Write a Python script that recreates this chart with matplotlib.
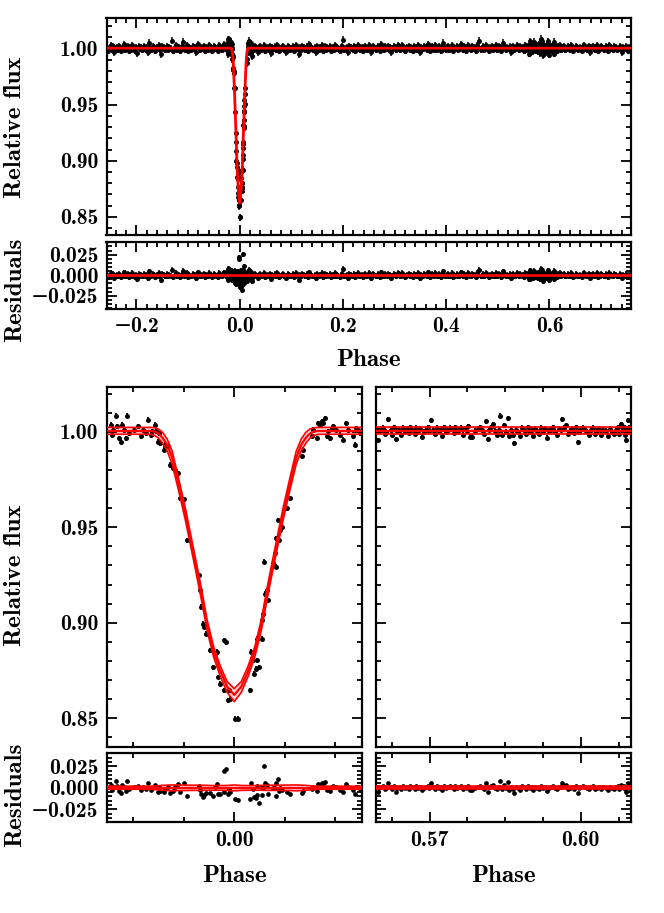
import numpy as np
import matplotlib
matplotlib.use("Agg")
import matplotlib.pyplot as plt
from matplotlib.ticker import MultipleLocator, FuncFormatter

plt.rcParams['font.family'] = ['cmb10', 'DejaVu Serif']
plt.rcParams['axes.unicode_minus'] = True

# ---------------- transit model (median and 1-sigma envelope) ----------------
model_phase = [-0.0253, -0.0180, -0.0166, -0.0158, -0.0150, -0.0142, -0.0133, -0.0123,
               -0.0110, -0.0097, -0.0087, -0.0074, -0.0064, -0.0054, -0.0041, -0.0028,
               -0.0014, 0.0, 0.0014, 0.0028, 0.0041, 0.0054, 0.0064, 0.0074, 0.0087,
               0.0097, 0.0110, 0.0123, 0.0133, 0.0142, 0.0150, 0.0158, 0.0166, 0.0180, 0.0253]
model_med = [1.0004, 1.0004, 1.0004, 1.0001, 0.9990, 0.9968, 0.9932, 0.9865,
             0.9720, 0.9570, 0.9440, 0.9270, 0.9135, 0.8990, 0.8850, 0.8750,
             0.8665, 0.8622, 0.8665, 0.8750, 0.8850, 0.8990, 0.9135, 0.9270, 0.9440,
             0.9570, 0.9720, 0.9865, 0.9932, 0.9968, 0.9990, 1.0001, 1.0004, 1.0004, 1.0004]
model_hi = [1.0023, 1.0023, 1.0023, 1.0021, 1.0014, 0.9997, 0.9962, 0.9898,
            0.9752, 0.9601, 0.9470, 0.9300, 0.9165, 0.9018, 0.8876, 0.8776,
            0.8692, 0.8655, 0.8692, 0.8776, 0.8876, 0.9018, 0.9165, 0.9300, 0.9470,
            0.9601, 0.9752, 0.9898, 0.9962, 0.9997, 1.0014, 1.0021, 1.0023, 1.0023, 1.0023]
model_lo = [0.9987, 0.9987, 0.9986, 0.9980, 0.9966, 0.9940, 0.9900, 0.9830,
            0.9688, 0.9538, 0.9410, 0.9240, 0.9105, 0.8962, 0.8822, 0.8722,
            0.8635, 0.8587, 0.8635, 0.8722, 0.8822, 0.8962, 0.9105, 0.9240, 0.9410,
            0.9538, 0.9688, 0.9830, 0.9900, 0.9940, 0.9966, 0.9980, 0.9986, 0.9987, 0.9987]
full_phase_edges = [-0.258, 0.758]
baseline_levels = [1.0023, 1.0004, 0.9987]   # hi, median, lo out of transit

# ---------------- transit window data (bottom-left) ----------------
tr_phase_e4 = [-245.1, -239.8, -235.2, -241.8, -231.9, -228.6, -225.3, -222.0, -218.8, -215.5,
               -213.5, -208.9, -199.0, -191.1, -185.8, -180.5, -175.9, -171.3, -166.0, -162.7,
               -158.1, -154.2, -151.5, -148.9, -146.3, -139.7, -136.4, -131.1, -126.5, -121.2,
               -116.6, -112.0, -108.1, -98.8, -93.6, -70.5, -68.5, -65.9, -61.9, -59.3,
               -55.3, -47.4, -42.2, -37.6, -34.3, -32.9, -27.7, -21.1, -16.5, -19.8,
               -13.2, -11.2, -7.9, 2.0, 6.6, 31.6, 32.9, 36.9, 39.5, 43.5,
               44.8, 44.8, 50.1, 54.7, 54.7, 58.0, 61.3, 64.6, 67.9, 59.3,
               77.7, 81.0, 83.0, 83.0, 86.3, 89.0, 90.9, 94.2, 104.1, 110.7,
               133.8, 137.0, 153.5, 156.8, 163.4, 166.7, 170.0, 173.3, 176.6, 179.9,
               183.2, 186.5, 189.8, 193.1, 196.4, 202.9, 209.5, 216.1, 221.4, 226.0,
               235.9, 239.2, 245.8, 249.1, 242.5]
tr_flux = [1.0037, 1.0011, 1.0084, 0.9984, 1.0028, 0.9967, 0.9949, 1.0037, 1.0011, 0.9967,
           1.0084, 0.9993, 1.0011, 1.0028, 0.9976, 1.0011, 0.9993, 1.0063, 0.9984, 1.0002,
           1.0037, 1.0002, 0.9949, 0.9993, 0.9941, 0.9906, 0.9932, 0.9923, 0.9827, 0.9809,
           0.9801, 0.9783, 0.9652, 0.9647, 0.9433, 0.9249, 0.9171, 0.9083, 0.8996, 0.8978,
           0.8943, 0.8856, 0.8768, 0.8838, 0.8847, 0.8716, 0.8681, 0.8908, 0.8899, 0.8646,
           0.8593, 0.8646, 0.8602, 0.8497, 0.8497, 0.8646, 0.8847, 0.8803, 0.8733, 0.8759,
           0.8803, 0.8917, 0.8768, 0.8917, 0.9013, 0.9048, 0.9153, 0.9171, 0.9118, 0.9319,
           0.9311, 0.9363, 0.9293, 0.9442, 0.9538, 0.9433, 0.9486, 0.9503, 0.9599, 0.9652,
           0.9871, 0.9906, 0.9976, 1.0011, 0.9967, 1.0046, 1.0037, 1.0054, 1.0046, 1.0072,
           0.9976, 1.0002, 0.9967, 1.0019, 1.0028, 1.0011, 0.9984, 0.9958, 1.0046, 1.0011,
           0.9976, 0.9932, 1.0011, 0.9993, 1.0019]

# ---------------- window around phase 0.585 (bottom-right) ----------------
oc_phase_e4 = [5595, 5598, 5600, 5603, 5607, 5611, 5614, 5618, 5623, 5626,
               5630, 5633, 5636, 5640, 5644, 5648, 5651, 5655, 5659, 5662,
               5666, 5670, 5673, 5677, 5681, 5684, 5688, 5692, 5696, 5699,
               5703, 5707, 5710, 5714, 5718, 5722, 5725, 5729, 5733, 5736,
               5740, 5744, 5748, 5751, 5755, 5759, 5762, 5766, 5770, 5774,
               5777, 5781, 5785, 5790, 5796, 5800, 5804, 5807, 5811, 5815,
               5818, 5822, 5826, 5830, 5833, 5837, 5839, 5843, 5847, 5851,
               5855, 5857, 5861, 5865, 5868, 5872, 5876, 5880, 5884, 5887,
               5891, 5895, 5899, 5903, 5906, 5910, 5914, 5918, 5921, 5925,
               5929, 5933, 5937, 5941, 5944, 5948, 5952, 5956, 5960, 5963,
               5967, 5971, 5975, 5979, 5983, 5987, 5991, 5995, 5997, 6001,
               6005, 6009, 6013, 6017, 6021, 6025, 6029, 6033, 6037, 6041,
               6045, 6050, 6054, 6058, 6062, 6066, 6070, 6073, 6076, 6079,
               6082, 6084, 6086, 6088, 6090, 6092, 6093, 6095, 6096, 6097]
oc_dflux_e3 = [1.0, -4.5, 0.5, 1.5, 2.0, -1.0, 0.0, 6.5, 1.0, -1.5,
               2.5, -4.0, 0.5, 1.0, -1.5, 2.0, 0.0, 1.5, -0.5, 2.5,
               1.0, -1.0, 2.0, 0.5, 1.5, -2.5, 0.0, 1.0, 2.5, 0.5,
               6.0, 1.0, -1.0, 2.0, 0.5, 1.5, -2.0, 2.5, 0.0, 1.0,
               2.0, 1.5, -0.5, 2.5, 0.0, 1.0, 2.0, -1.5, 1.5, 0.5,
               3.0, -2.5, -2.5, 0.5, 1.5, 2.5, 1.0, -1.0, 5.5, -4.0,
               1.0, 2.5, 4.0, 0.5, -1.5, 1.0, 8.5, -1.5, 3.5, 0.0,
               7.0, -2.0, 1.0, -1.5, -6.0, 1.0, 0.0, -2.0, 2.0, 1.0,
               -1.0, 2.5, 0.0, 1.0, -2.0, 1.5, 0.5, -1.0, 2.0, 0.0,
               1.5, -3.0, 0.5, 1.0, 2.5, 0.0, -1.5, 1.5, 1.0, 6.5,
               2.0, 3.5, -1.0, 0.5, 1.5, -0.5, 2.5, -5.5, 0.0, 1.5,
               2.0, 1.0, 0.0, -1.5, 1.0, 2.0, -1.0, 0.5, 1.5, -1.5,
               1.0, 0.5, -2.0, 1.5, 0.0, -1.0, 1.0, 2.5, -1.0, 4.0,
               3.0, 1.5, 2.5, -1.5, -4.5, 1.0, 6.0, 0.0, 2.5, 1.5]

# ---------------- rest of the phase-folded light curve (top panel) ----------------
lc_phase_e3 = [
    -257, -255, -252, -250, -248, -245, -243, -241, -238, -236,
    -234, -231, -229, -227, -224, -222, -220, -217, -215, -213,
    -210, -208, -206, -203, -201, -199, -196, -194, -192, -189,
    -187, -185, -182, -180, -178, -175, -173, -171, -168, -166,
    -164, -161, -159, -157, -154, -152, -150, -147, -145, -143,
    -140, -138, -136, -133, -131, -129, -126, -124, -122, -119,
    -117, -115, -112, -110, -108, -105, -103, -101, -98, -96,
    -94, -91, -89, -87, -84, -82, -80, -77, -75, -73,
    -70, -68, -66, -63, -61, -59, -56, -54, -52, -49,
    -47, -45, -42, -40, -38, -35, -33, -31, -28, -26,
    28, 30, 33, 35, 37, 40, 42, 44, 47, 49,
    51, 54, 56, 58, 61, 63, 65, 68, 70, 72,
    75, 77, 79, 82, 84, 86, 89, 91, 93, 96,
    98, 100, 103, 105, 107, 110, 112, 114, 117, 119,
    121, 124, 126, 128, 131, 133, 135, 138, 140, 142,
    145, 147, 149, 152, 154, 156, 159, 161, 163, 166,
    168, 170, 173, 175, 177, 180, 182, 184, 187, 189,
    191, 194, 196, 198, 201, 203, 205, 208, 210, 212,
    215, 217, 219, 222, 224, 226, 229, 231, 233, 236,
    238, 240, 243, 245, 247, 250, 252, 254, 257, 259,
    261, 264, 266, 268, 271, 273, 275, 278, 280, 282,
    285, 287, 289, 292, 294, 296, 299, 301, 303, 306,
    308, 310, 313, 315, 317, 320, 322, 324, 327, 329,
    331, 334, 336, 338, 341, 343, 345, 348, 350, 352,
    355, 357, 359, 362, 364, 366, 369, 371, 373, 376,
    378, 380, 383, 385, 387, 390, 392, 394, 397, 399,
    401, 404, 406, 408, 411, 413, 415, 418, 420, 422,
    425, 427, 429, 432, 434, 436, 439, 441, 443, 446,
    448, 450, 453, 455, 457, 460, 462, 464, 467, 469,
    471, 474, 476, 478, 481, 483, 485, 488, 490, 492,
    495, 497, 499, 502, 504, 506, 509, 511, 513, 516,
    518, 520, 523, 525, 527, 530, 532, 534, 537, 539,
    541, 543, 546, 548, 550, 552, 553, 555, 556, 558,
    611, 614, 616, 618, 621, 623, 625, 628, 630, 632,
    635, 637, 639, 642, 644, 646, 649, 651, 653, 656,
    658, 660, 663, 665, 667, 670, 672, 674, 677, 679,
    681, 684, 686, 688, 691, 693, 695, 698, 700, 702,
    705, 707, 709, 712, 714, 716, 719, 721, 723, 726,
    728, 731, 734, 737, 740, 743, 746, 749, 752, 755]
lc_dflux_e3 = [
    1, -2, 0, 3, -1, 2, -3, 0, 1, -1,
    2, 0, -2, 1, 4, -1, 0, 2, -2, 1,
    -1, 3, 0, -2, 1, -4, 2, 0, 1, -1,
    0, 2, -1, 1, -3, 5, 0, -1, 2, 1,
    -2, 1, 0, 3, -1, -5, 2, 1, -1, 0,
    2, -1, 1, 0, 7, -2, 1, 3, -1, 0,
    1, -2, 2, 6, 0, -1, 3, -2, 1, 0,
    -1, 2, 0, 1, -3, 2, 4, -1, 0, 1,
    2, -2, 1, 0, -1, 3, 1, -2, 0, 2,
    1, 0, -2, 3, 1, -1, 2, 4, 1, 0,
    -1, 2, 0, -3, 1, 2, -1, 0, 3, -2,
    0, 1, -1, 2, -4, 1, 0, 2, -1, 3,
    1, -2, 0, 1, 2, -1, -3, 0, 2, 1,
    -1, 0, 2, -2, 1, 3, 0, -5, 1, -1,
    2, 1, -1, 0, 2, -2, 4, 1, 0, -1,
    1, -3, 2, 0, -1, 1, 3, -2, 0, 2,
    -1, 1, 0, 2, -2, 1, -1, 3, 0, 1,
    0, -2, 1, 2, 8, -1, 0, 1, -3, 2,
    1, 0, -1, 2, -2, 1, 3, 0, -1, 1,
    -2, 1, 2, 0, -1, 3, 1, -3, 0, 2,
    1, -1, 0, 2, -2, 4, 1, 0, -1, 2,
    0, 2, -1, 1, -3, 0, 2, 1, -1, 3,
    2, -1, 0, 3, 1, -2, 0, 1, 2, -1,
    1, 0, -2, 2, 1, -1, 3, 0, -3, 1,
    0, 2, 1, -1, 4, 0, -2, 1, 2, -1,
    3, 1, -1, 0, 2, -2, 1, 5, 0, -1,
    1, 2, -1, 0, 3, -2, 1, 0, 2, -1,
    0, 1, 4, -1, 2, 0, -2, 1, 3, 0,
    -1, 2, 1, 0, -2, 3, 1, 7, -1, 0,
    2, -1, 1, 3, 0, -2, 1, 2, -1, 1,
    0, 3, -1, 2, 1, -2, 0, 5, 1, -1,
    1, 0, 2, -3, 1, 2, -1, 0, 3, 1,
    -1, 2, 0, 1, -2, 3, 1, -1, 2, 0,
    1, -2, 2, 0, 3, -1, 1, 2, -1, 0,
    2, 0, -1, 3, 1, -2, 0, 2, 1, -1,
    0, 1, -2, 2, 3, 0, -1, 1, 2, -3,
    1, 2, 0, -1, 1, 3, -2, 0, 2, 1,
    -1, 0, 2, 1, -2, 3, 1, 0, -1, 2,
    1, -1, 0, 2, -3, 1, 0, 2, -2, 1]

flux_err = 0.0013
top_err = 0.0032

# ---------------- derived arrays ----------------
m_ph = np.array(model_phase)
m_med = np.array(model_med)
m_hi = np.array(model_hi)
m_lo = np.array(model_lo)

tr_ph = np.array(tr_phase_e4) * 1e-4
tr_fl = np.array(tr_flux)
tr_res = tr_fl - np.interp(tr_ph, m_ph, m_med)

oc_ph = np.array(oc_phase_e4) * 1e-4
oc_fl = 1.0 + np.array(oc_dflux_e3) * 1e-3
oc_res = oc_fl - baseline_levels[1]

n = min(len(lc_phase_e3), len(lc_dflux_e3))
lc_ph = np.array(lc_phase_e3[:n]) * 1e-3
lc_fl = 1.0 + np.array(lc_dflux_e3[:n]) * 1e-3

top_mph = np.concatenate([[full_phase_edges[0]], m_ph, [full_phase_edges[1]]])
top_mfl = np.concatenate([[baseline_levels[1]], m_med, [baseline_levels[1]]])
all_ph = np.concatenate([lc_ph, tr_ph, oc_ph])
all_fl = np.concatenate([lc_fl, tr_fl, oc_fl])
all_res = all_fl - np.interp(all_ph, top_mph, top_mfl)

# ---------------- figure ----------------
W, H = 664, 913
fig = plt.figure(figsize=(W / 100, H / 100), dpi=100)


def add_ax(x0, x1, y0, y1):
    return fig.add_axes([x0 / W, 1 - y1 / H, (x1 - x0) / W, (y1 - y0) / H])


def fmt(d):
    def f(v, pos):
        s = f"{v:.{d}f}"
        if float(s) == 0:
            s = s.replace("-", "")
        return s.replace("-", "\u2212")
    return FuncFormatter(f)


def style(ax):
    for s in ax.spines.values():
        s.set_linewidth(1.6)
    ax.tick_params(which='both', direction='in', top=True, right=True,
                   width=1.3, labelsize=15.5, pad=6)
    ax.tick_params(which='major', length=7)
    ax.tick_params(which='minor', length=3.5)


ax_top = add_ax(106.5, 631, 18, 235)
ax_topr = add_ax(106.5, 631, 241.5, 309)
ax_bl = add_ax(106.7, 361.7, 386.7, 746.7)
ax_blr = add_ax(106.7, 361.7, 753.3, 822.3)
ax_br = add_ax(375.7, 630.7, 386.7, 746.7)
ax_brr = add_ax(375.7, 630.7, 753.3, 822.3)

RED = '#ff0000'

# top panel
ax_top.errorbar(all_ph, all_fl, yerr=top_err, fmt='o', ms=3.6, color='k', mec='none',
                elinewidth=1.1, capsize=0, zorder=2)
ax_top.plot(top_mph, top_mfl, color=RED, lw=2.0, zorder=3)
ax_top.set_xlim(-0.258, 0.758)
ax_top.set_ylim(0.8338, 1.0273)
ax_topr.errorbar(all_ph, all_res, yerr=top_err, fmt='o', ms=3.6, color='k', mec='none',
                 elinewidth=1.1, capsize=0, zorder=2)
ax_topr.axhline(0, color=RED, lw=2.0, zorder=3)
ax_topr.set_xlim(-0.258, 0.758)
ax_topr.set_ylim(-0.041, 0.041)

for ax in (ax_top, ax_topr):
    style(ax)
    ax.xaxis.set_major_locator(MultipleLocator(0.2))
    ax.xaxis.set_minor_locator(MultipleLocator(0.02))
    ax.xaxis.set_major_formatter(fmt(1))
ax_top.tick_params(labelbottom=False)
ax_top.yaxis.set_major_locator(MultipleLocator(0.05))
ax_top.yaxis.set_minor_locator(MultipleLocator(0.01))
ax_top.yaxis.set_major_formatter(fmt(2))
ax_topr.yaxis.set_major_locator(MultipleLocator(0.025))
ax_topr.yaxis.set_minor_locator(MultipleLocator(0.005))
ax_topr.yaxis.set_major_formatter(fmt(3))

# bottom-left (transit)
ax_bl.errorbar(tr_ph, tr_fl, yerr=flux_err, fmt='o', ms=3.6, color='k', mec='none',
               elinewidth=1.3, capsize=0, zorder=2)
ax_bl.fill_between(m_ph, m_lo, m_hi, color=RED, alpha=0.18, lw=0, zorder=3)
for curve, lw in ((m_hi, 1.2), (m_med, 1.6), (m_lo, 1.2)):
    ax_bl.plot(m_ph, curve, color=RED, lw=lw, zorder=4)
ax_blr.plot(tr_ph, tr_res, 'o', ms=3.4, color='k', mec='none', zorder=2)
ax_blr.fill_between(m_ph, m_lo - m_med, m_hi - m_med, color=RED, alpha=0.18, lw=0, zorder=3)
for curve, lw in ((m_hi, 1.2), (m_med, 1.6), (m_lo, 1.2)):
    ax_blr.plot(m_ph, curve - m_med, color=RED, lw=lw, zorder=4)

# bottom-right
ax_br.errorbar(oc_ph, oc_fl, yerr=flux_err, fmt='o', ms=3.6, color='k', mec='none',
               elinewidth=1.3, capsize=0, zorder=2)
r_edges = [0.5593, 0.6099]
ax_br.fill_between(r_edges, [baseline_levels[2]] * 2, [baseline_levels[0]] * 2,
                   color=RED, alpha=0.18, lw=0, zorder=3)
for lev, lw in zip(baseline_levels, (1.2, 1.6, 1.2)):
    ax_br.plot(r_edges, [lev, lev], color=RED, lw=lw, zorder=4)
ax_brr.plot(oc_ph, oc_res, 'o', ms=3.4, color='k', mec='none', zorder=2)
ax_brr.fill_between(r_edges, [baseline_levels[2] - baseline_levels[1]] * 2,
                    [baseline_levels[0] - baseline_levels[1]] * 2,
                    color=RED, alpha=0.18, lw=0, zorder=3)
for lev, lw in zip(baseline_levels, (1.2, 1.6, 1.2)):
    ax_brr.plot(r_edges, [lev - baseline_levels[1]] * 2, color=RED, lw=lw, zorder=4)

for ax in (ax_bl, ax_blr):
    ax.set_xlim(-0.0253, 0.0253)
    ax.xaxis.set_minor_locator(MultipleLocator(0.01))
for ax in (ax_br, ax_brr):
    ax.set_xlim(0.5593, 0.6099)
    ax.xaxis.set_minor_locator(MultipleLocator(0.0075))
for ax in (ax_bl, ax_blr, ax_br, ax_brr):
    style(ax)
    ax.xaxis.set_major_locator(MultipleLocator(0.03))
    ax.xaxis.set_major_formatter(fmt(2))
for ax in (ax_bl, ax_br):
    ax.set_ylim(0.8351, 1.0236)
    ax.yaxis.set_major_locator(MultipleLocator(0.05))
    ax.yaxis.set_minor_locator(MultipleLocator(0.01))
    ax.yaxis.set_major_formatter(fmt(2))
    ax.tick_params(labelbottom=False)
for ax in (ax_blr, ax_brr):
    ax.set_ylim(-0.04, 0.04)
    ax.yaxis.set_major_locator(MultipleLocator(0.025))
    ax.yaxis.set_minor_locator(MultipleLocator(0.005))
    ax.yaxis.set_major_formatter(fmt(3))
ax_br.tick_params(labelleft=False)
ax_brr.tick_params(labelleft=False)

# labels
LS = 18
fig.text(15 / W, 1 - 127 / H, 'Relative flux', rotation=90, ha='center', va='center', fontsize=LS)
fig.text(15 / W, 1 - 290 / H, 'Residuals', rotation=90, ha='center', va='center', fontsize=LS)
fig.text(368 / W, 1 - 360 / H, 'Phase', ha='center', va='center', fontsize=LS)
fig.text(15 / W, 1 - 575 / H, 'Relative flux', rotation=90, ha='center', va='center', fontsize=LS)
fig.text(15 / W, 1 - 795 / H, 'Residuals', rotation=90, ha='center', va='center', fontsize=LS)
fig.text(234.5 / W, 1 - 876 / H, 'Phase', ha='center', va='center', fontsize=LS)
fig.text(503 / W, 1 - 876 / H, 'Phase', ha='center', va='center', fontsize=LS)

fig.savefig('out.png', dpi=100)
